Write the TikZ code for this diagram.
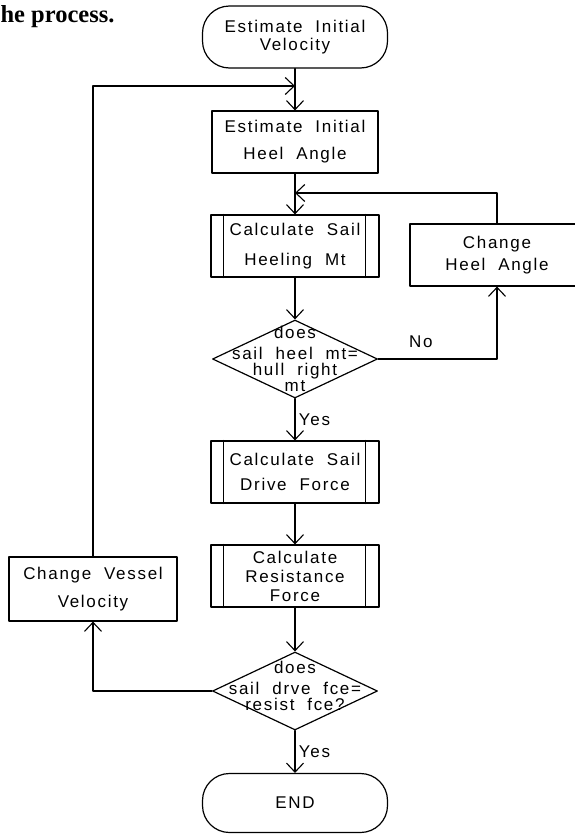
\documentclass[tikz,border=0pt]{standalone}
\usepackage{fontspec}
\setmainfont{Liberation Serif}
\newfontfamily\chartfont[LetterSpace=10,WordSpace=2]{Liberation Sans}
\usetikzlibrary{arrows.meta,shapes.geometric}

\begin{document}
\begin{tikzpicture}[x=1pt,y=-1pt,line join=round,line cap=round,line width=1.2pt,
	>={Straight Barb[length=9pt,width=17pt,line width=1.1pt]},
	every node/.style={font=\chartfont\fontsize{17}{20}\selectfont},
	box/.style={draw,minimum width=166pt,minimum height=62pt,inner sep=0pt,align=center},
	subbox/.style={box,minimum width=168pt},
	term/.style={draw,rounded corners=27pt,minimum width=185pt,minimum height=62pt,inner sep=0pt,align=center},
	decide/.style={draw,diamond,minimum width=165pt,minimum height=78pt,inner sep=0pt},
	decidetext/.style={align=center,inner sep=0pt,font=\chartfont\fontsize{17}{16}\selectfont}]
	\useasboundingbox (0,0) rectangle (574,835);
	\node[anchor=base west,inner sep=0pt,font=\rmfamily\bfseries\fontsize{24.5}{28}\selectfont] (title) at (0,22) {he process.};
	\node[term] (start) at (295,37) {Estimate Initial\\[-2pt]Velocity};
	\node[box] (heel) at (295,142) {Estimate Initial\\[7pt]Heel Angle};
	\node[subbox] (calc) at (295,246) {Calculate Sail\\[10pt]Heeling Mt};
	\node[box,minimum width=174pt] (chg) at (497,255) {Change\\[2pt]Heel Angle};
	\node[decide] (d1) at (295,359) {};
	\node[decidetext] (d1txt) at (d1) {does\\[5pt]sail heel mt=\\hull right\\mt};
	\node[subbox] (drive) at (295,472) {Calculate Sail\\[5pt]Drive Force};
	\node[subbox] (resist) at (295,576) {Calculate\\[-1pt]Resistance\\[-1pt]Force};
	\node[subbox,minimum height=64pt] (vessel) at (93,589) {Change Vessel\\[8pt]Velocity};
	\node[decide] (d2) at (295,691) {};
	\node[decidetext] (d2txt) at ([yshift=5pt]d2) {does\\[5pt]sail drve fce=\\resist fce?};
	\node[term,minimum height=59pt] (stop) at (295,803) {END};
	\foreach \n in {calc,drive,resist}
	\draw[line width=1pt] ([xshift=13pt]\n.north west)--([xshift=13pt]\n.south west) ([xshift=-14pt]\n.north east)--([xshift=-14pt]\n.south east);
	\coordinate (loopa) at (295,86);
	\coordinate (loopb) at (295,193);
	\draw[->] (start)--(heel);
	\draw[->] (vessel.north) |- (loopa);
	\draw[->] (heel)--(calc);
	\draw[->] (chg.north) |- (loopb);
	\draw[->] (calc)--(d1);
	\draw[->] (d1.east) -| node[pos=0.18,above=7pt] {No} (chg.south);
	\draw[->] (d1)--node[right] {Yes} (drive);
	\draw[->] (drive)--(resist);
	\draw[->] (resist)--(d2);
	\draw[->] (d2.west) -| (vessel.south);
	\draw[->] (d2)--node[right] {Yes} (stop);
\end{tikzpicture}
\end{document}
